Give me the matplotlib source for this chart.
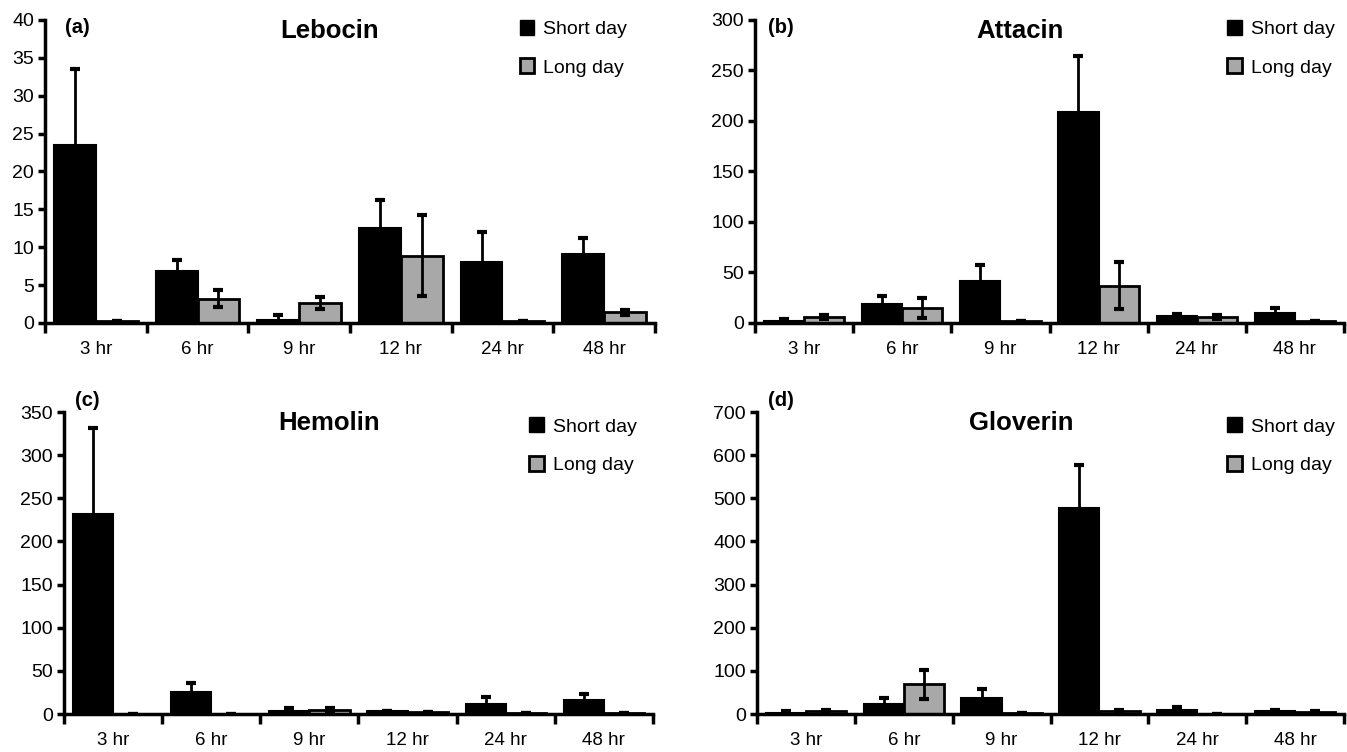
import numpy as np
import matplotlib.pyplot as plt
from matplotlib.patches import Patch

plt.rcParams['font.family'] = ['Liberation Sans', 'DejaVu Sans']

times = ['3 hr', '6 hr', '9 hr', '12 hr', '24 hr', '48 hr']

leb_short = [23.5, 6.8, 0.4, 12.6, 8.0, 9.1]
leb_short_err = [10.0, 1.5, 0.6, 3.6, 4.0, 2.1]
leb_long = [0.3, 3.2, 2.6, 8.9, 0.2, 1.4]
leb_long_err = [0.0, 1.1, 0.8, 5.3, 0.0, 0.3]

att_short = [2, 19, 42, 209, 7, 10]
att_short_err = [1.5, 8, 15, 55, 1.5, 5]
att_long = [6, 15, 2, 37, 6, 2]
att_long_err = [2, 10, 0, 23, 2, 0]

hem_short = [232, 25, 4, 3, 12, 16]
hem_short_err = [99, 11, 3, 0, 8, 7]
hem_long = [0.5, 0.5, 5, 2, 1.5, 1.5]
hem_long_err = [0, 0, 2, 0, 0, 0]

glo_short = [3, 24, 37, 478, 9, 6]
glo_short_err = [3, 12, 20, 100, 7, 3]
glo_long = [7, 69, 2, 7, 0.5, 4]
glo_long_err = [3, 34, 0, 2, 0, 3]

panels = [
    ('(a)', 'Lebocin', leb_short, leb_short_err, leb_long, leb_long_err, 40, 5),
    ('(b)', 'Attacin', att_short, att_short_err, att_long, att_long_err, 300, 50),
    ('(c)', 'Hemolin', hem_short, hem_short_err, hem_long, hem_long_err, 350, 50),
    ('(d)', 'Gloverin', glo_short, glo_short_err, glo_long, glo_long_err, 700, 100),
]

rects = [
    [45 / 1347, 0.5705, 610 / 1347, 0.403],
    [755 / 1347, 0.5705, 589 / 1347, 0.403],
    [64 / 1347, 0.0505, 589 / 1347, 0.4015],
    [757 / 1347, 0.0505, 587 / 1347, 0.4015],
]
title_x = [0.467, 0.45, 0.45, 0.45]
tag_pos = [(0.033, 0.975), (0.022, 0.975), (0.019, 1.04), (0.019, 1.04)]
leg_anchor = [(0.967, 1.026), (0.997, 1.026), (0.985, 1.008), (0.997, 1.008)]

gray = '#a8a8a8'
fig = plt.figure(figsize=(13.47, 7.52), dpi=100)

for k, (tag, name, s, se, l, le, ymax, step) in enumerate(panels):
    ax = fig.add_axes(rects[k])
    x = np.arange(len(times))
    w = 0.41
    ax.bar(x - w / 2, s, w, color='black', edgecolor='black', linewidth=1.5,
           zorder=2)
    ax.bar(x + w / 2, l, w, color=gray, edgecolor='black', linewidth=2,
           zorder=2)
    ax.errorbar(x - w / 2, s, yerr=se, fmt='none', ecolor='black',
                elinewidth=2, capsize=3.5, capthick=3, zorder=3)
    ax.errorbar(x + w / 2, l, yerr=le, fmt='none', ecolor='black',
                elinewidth=2, capsize=3.5, capthick=3, zorder=3)

    ax.set_xlim(-0.5, len(times) - 0.5)
    ax.set_ylim(0, ymax)
    ax.set_yticks(np.arange(0, ymax + 1, step))
    ax.set_xticks(np.arange(-0.5, len(times), 1))
    ax.set_xticklabels([])
    ax.set_xticks(x, minor=True)
    ax.set_xticklabels(times, minor=True)
    ax.tick_params(axis='x', which='major', direction='out', length=7,
                   width=2.5)
    ax.tick_params(axis='x', which='minor', length=0, pad=13, labelsize=13.5)
    ax.tick_params(axis='y', direction='out', length=5, width=2.5,
                   labelsize=14, pad=3)
    for side in ['top', 'right']:
        ax.spines[side].set_visible(False)
    for side in ['left', 'bottom']:
        ax.spines[side].set_linewidth(2.5)
    ax.spines['bottom'].set_zorder(4)

    ax.text(title_x[k], 0.965, name, transform=ax.transAxes, ha='center',
            va='center', fontsize=18.5, fontweight='bold')
    ax.text(tag_pos[k][0], tag_pos[k][1], tag, transform=ax.transAxes,
            ha='left', va='center', fontsize=14.5, fontweight='bold')

    handles = [Patch(facecolor='black', edgecolor='black'),
               Patch(facecolor=gray, edgecolor='black', linewidth=2)]
    ax.legend(handles, ['Short day', 'Long day'], loc='upper right',
              bbox_to_anchor=leg_anchor[k], frameon=False, fontsize=14,
              handlelength=0.75, handleheight=0.8, handletextpad=0.45,
              labelspacing=1.05, borderaxespad=0)

fig.savefig('out.png', dpi=100)
